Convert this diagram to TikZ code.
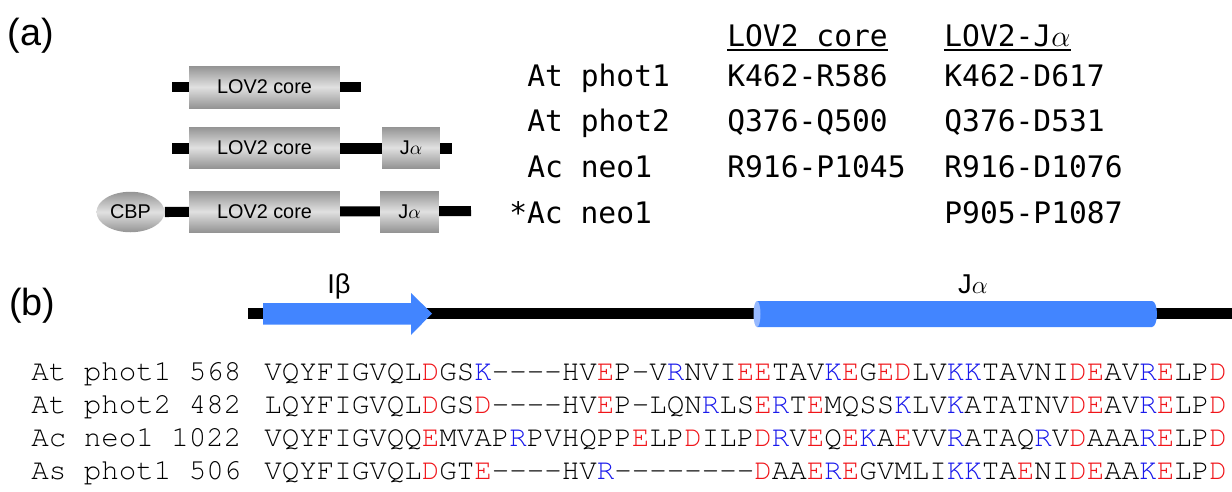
\documentclass[tikz,border=0pt]{standalone}
\usepackage{fontspec}
\setsansfont{Liberation Sans}
\newfontfamily\tabfont{DejaVu Sans Mono}
\newfontfamily\seqfont{texgyrecursor-regular.otf}[Ligatures=TeXOff]
\usepackage{xcolor}
\usepackage{tikz}
\usetikzlibrary{calc,positioning,shapes.geometric}

\definecolor{helixblue}{RGB}{66,133,255}
\definecolor{helixcap}{RGB}{150,185,255}
\definecolor{acidred}{RGB}{240,20,25}
\definecolor{basicblue}{RGB}{25,25,235}
\definecolor{boxedge}{gray}{0.58}
\definecolor{boxmid}{gray}{0.88}

\newcommand{\acd}[1]{\textcolor{acidred}{#1}}
\newcommand{\bas}[1]{\textcolor{basicblue}{#1}}

\begin{document}
\begin{tikzpicture}[
  x=0.02cm,y=0.02cm,
  font=\sffamily,
  panel/.style={font=\fontsize{21.5}{24}\selectfont\sffamily,anchor=base west,inner sep=0pt},
  backbone/.style={line width=5.7pt},
  lovbox/.style={top color=boxedge,bottom color=boxedge,middle color=boxmid,
                 inner sep=0pt,font=\fontsize{11.3}{13}\selectfont\sffamily},
  tabtxt/.style={font=\fontsize{16.85}{20}\selectfont\tabfont,anchor=base west,inner sep=0pt},
  seqtxt/.style={font=\fontsize{16.6}{19}\selectfont\seqfont,anchor=base west,inner sep=0pt},
  sselabel/.style={font=\fontsize{15.5}{18}\selectfont\sffamily,anchor=base,inner sep=0pt}
]
\useasboundingbox (0,0) rectangle (1232,-491);

\node[panel] (pa) at (7.5,-45) {(a)};
\node[panel] (pb) at (9,-315) {(b)};

% constructs
\coordinate (r1l) at (172,-87);
\coordinate (r1r) at (361,-87);
\coordinate (r2l) at (172,-148.5);
\coordinate (r2r) at (452,-148.5);
\coordinate (r3r) at (471,-211);
\draw[backbone] (r1l) -- (r1r);
\draw[backbone] (r2l) -- (r2r);
\node[lovbox,minimum width=3.02cm,minimum height=0.84cm] (core1) at (264.5,-87) {LOV2 core};
\node[lovbox,minimum width=3.02cm,minimum height=0.82cm] (core2) at (264.5,-147.5) {LOV2 core};
\node[lovbox,minimum width=1.16cm,minimum height=0.82cm] (ja2) at (411,-147.5) {J$\alpha$};
\node[lovbox,ellipse,minimum width=1.36cm,minimum height=0.81cm] (cbp) at (130.5,-212) {CBP};
\draw[backbone] (cbp.east) -- (r3r);
\node[lovbox,minimum width=3.02cm,minimum height=0.82cm] (core3) at (264.5,-211.5) {LOV2 core};
\node[lovbox,minimum width=1.18cm,minimum height=0.82cm] (ja3) at (409.5,-211.5) {J$\alpha$};

% boundaries table
\node[tabtxt] (hcore) at (727,-46) {LOV2 core};
\node[tabtxt] (hja) at (944,-46) {LOV2-J$\alpha$};
\draw[line width=1.3pt] ([yshift=-2.2pt]hcore.base west) -- ([yshift=-2.2pt]hcore.base east);
\draw[line width=1.3pt] ([yshift=-2.2pt]hja.base west) -- ([yshift=-2.2pt]hja.base east);

\node[tabtxt] (n1) at (527,-86) {At phot1};
\node[tabtxt] (c1) at (727,-86) {K462-R586};
\node[tabtxt] (f1) at (944,-86) {K462-D617};
\node[tabtxt] (n2) at (527,-131.5) {At phot2};
\node[tabtxt] (c2) at (727,-131.5) {Q376-Q500};
\node[tabtxt] (f2) at (944,-131.5) {Q376-D531};
\node[tabtxt] (n3) at (527,-177.5) {Ac neo1};
\node[tabtxt] (c3) at (727,-177.5) {R916-P1045};
\node[tabtxt] (f3) at (944,-177.5) {R916-D1076};
\node[tabtxt] (n4) at (509,-223.5) {*Ac neo1};
\node[tabtxt] (f4) at (944,-223.5) {P905-P1087};

% secondary structure
\coordinate (bbl) at (248,-313.5);
\coordinate (bbr) at (1232,-313.5);
\draw[line width=6.2pt] (bbl) -- (bbr);
\fill[helixblue] (263,-303) -- (411,-303) -- (411,-293) -- (432,-313.5)
  -- (411,-335) -- (411,-324.5) -- (263,-324.5) -- cycle;
\fill[helixblue] (757,-301) -- (1152,-301) arc[start angle=90,end angle=-90,x radius=5,y radius=13]
  -- (757,-327) -- cycle;
\fill[helixcap] (757,-314) ellipse[x radius=3.5,y radius=13];
\node[sselabel] (iblab) at (339,-293) {Iβ};
\node[sselabel] (jalab) at (973,-293) {J$\alpha$};

% alignment
\node[seqtxt] (s1l) at (31,-380) {At phot1 568};
\node[seqtxt] (s1) at (264,-380) {VQYFIGVQL\acd{D}GS\bas{K}----HV\acd{E}P-V\bas{R}NVI\acd{EE}TAV\bas{K}\acd{E}G\acd{ED}LV\bas{KK}TAVNI\acd{DE}AV\bas{R}\acd{E}LP\acd{D}};
\node[seqtxt] (s2l) at (31,-413) {At phot2 482};
\node[seqtxt] (s2) at (264,-413) {LQYFIGVQL\acd{D}GS\acd{D}----HV\acd{E}P-LQN\bas{R}LS\acd{E}\bas{R}T\acd{E}MQSS\bas{K}LV\bas{K}ATATNV\acd{DE}AV\bas{R}\acd{E}LP\acd{D}};
\node[seqtxt] (s3l) at (31,-446) {Ac neo1 1022};
\node[seqtxt] (s3) at (264,-446) {VQYFIGVQQ\acd{E}MVAP\bas{R}PVHQPP\acd{E}LP\acd{D}ILP\acd{D}\bas{R}V\acd{E}Q\acd{E}\bas{K}A\acd{E}VV\bas{R}ATAQ\bas{R}V\acd{D}AAA\bas{R}\acd{E}LP\acd{D}};
\node[seqtxt] (s4l) at (31,-479) {As phot1 506};
\node[seqtxt] (s4) at (264,-479) {VQYFIGVQL\acd{D}GT\acd{E}----HV\bas{R}--------\acd{D}AA\acd{E}\bas{R}\acd{E}GVMLI\bas{KK}TA\acd{E}NI\acd{DE}AA\bas{K}\acd{E}LP\acd{D}};
\end{tikzpicture}
\end{document}
